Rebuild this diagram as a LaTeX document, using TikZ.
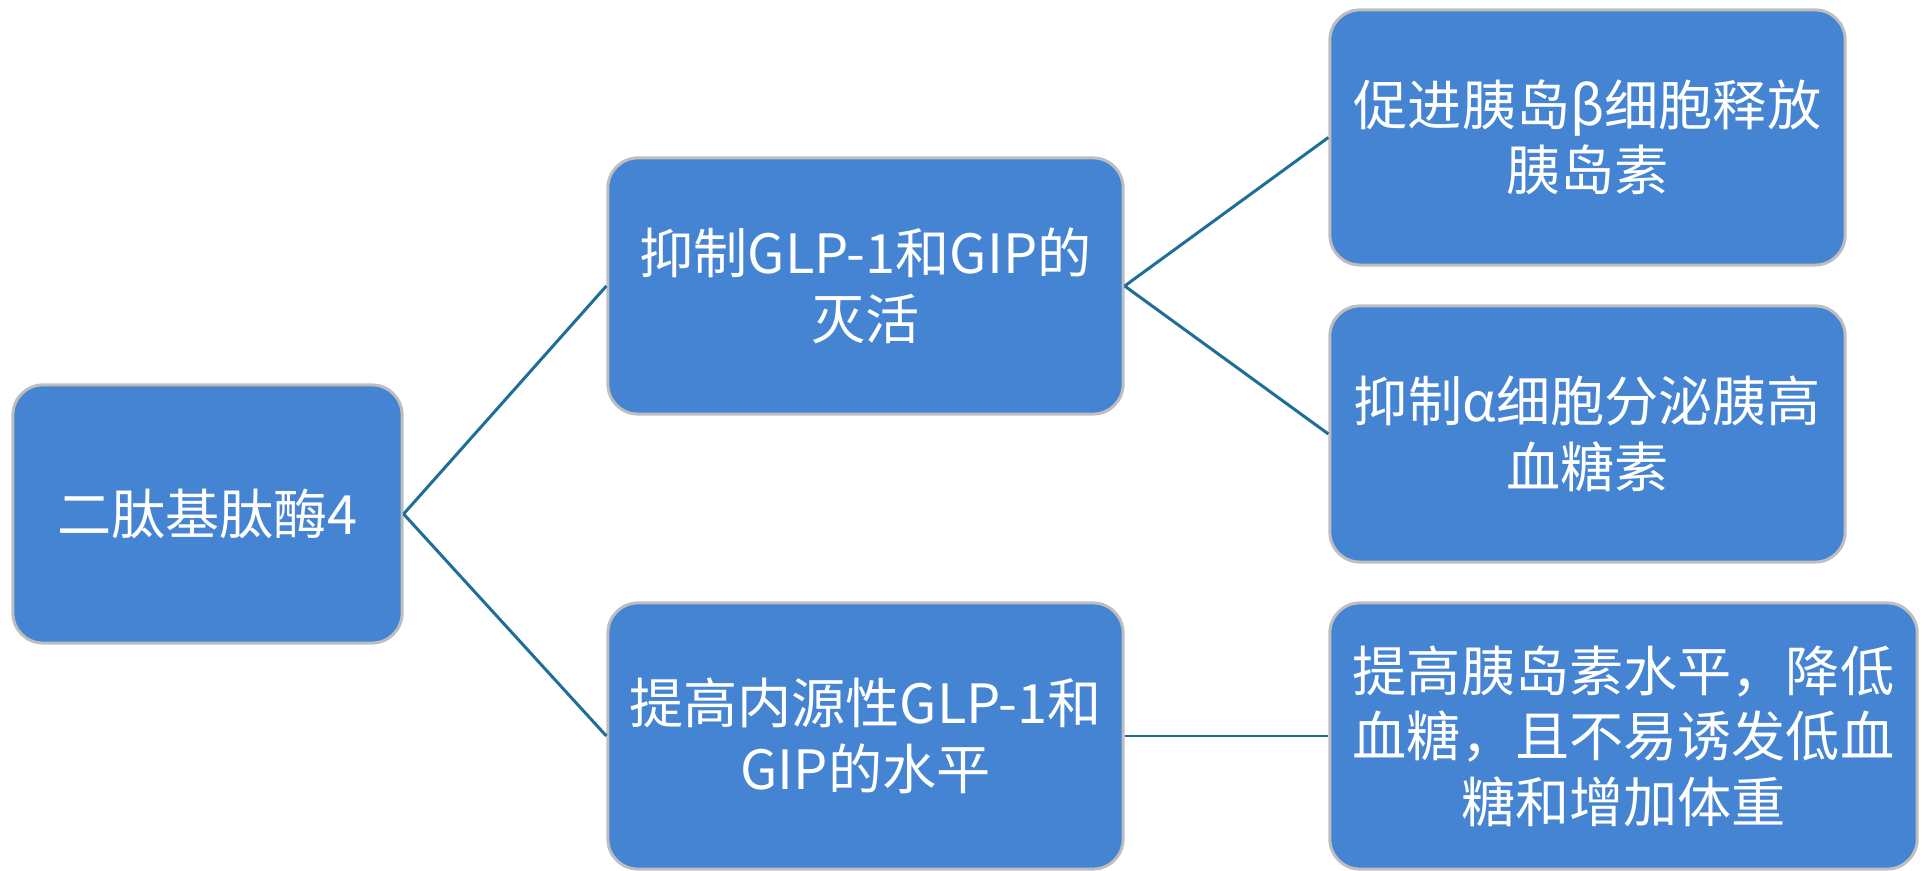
\documentclass[tikz,border=0pt]{standalone}
\usepackage{fontspec}
\setmainfont{Noto Sans CJK SC}
\definecolor{boxblue}{RGB}{69,132,211}
\definecolor{boxrim}{RGB}{190,190,190}
\definecolor{linkblue}{RGB}{31,110,152}
\begin{document}
\begin{tikzpicture}[x=0.01cm, y=-0.01cm, line join=round,
	box/.style={draw=boxrim, line width=0.85pt, fill=boxblue, rounded corners=0.3cm, text=white, align=center, inner sep=0pt, font=\fontsize{15.4}{18.6}\selectfont},
	link/.style={draw=linkblue, line width=0.85pt}]

	\useasboundingbox (0,0) rectangle (1925,871);

	\node[box, minimum width=3.89cm, minimum height=2.58cm] (dpp) at (207.5,514) {二肽基肽酶4};
	\node[box, minimum width=5.15cm, minimum height=2.56cm] (inhibit) at (865.5,286) {抑制GLP-1和GIP的\\灭活};
	\node[box, minimum width=5.15cm, minimum height=2.66cm] (raise) at (865.5,736) {提高内源性GLP-1和\\GIP的水平};
	\node[box, minimum width=5.15cm, minimum height=2.55cm] (beta) at (1587.5,137.5) {促进胰岛β细胞释放\\胰岛素};
	\node[box, minimum width=5.15cm, minimum height=2.56cm] (alpha) at (1587.5,434) {抑制α细胞分泌胰高\\血糖素};
	\node[box, minimum width=5.87cm, minimum height=2.66cm] (sugar) at (1623.5,736) {提高胰岛素水平，降低\\血糖，且不易诱发低血\\糖和增加体重};

	%\draw[gray!10] (0,0) grid[step=100] (1925,871);
	\draw[link] (dpp.east)--(inhibit.west) (dpp.east)--(raise.west);
	\draw[link] (inhibit.east)--(beta.west) (inhibit.east)--(alpha.west);
	\draw[link] (raise.east)--(sugar.west);
\end{tikzpicture}
\end{document}
